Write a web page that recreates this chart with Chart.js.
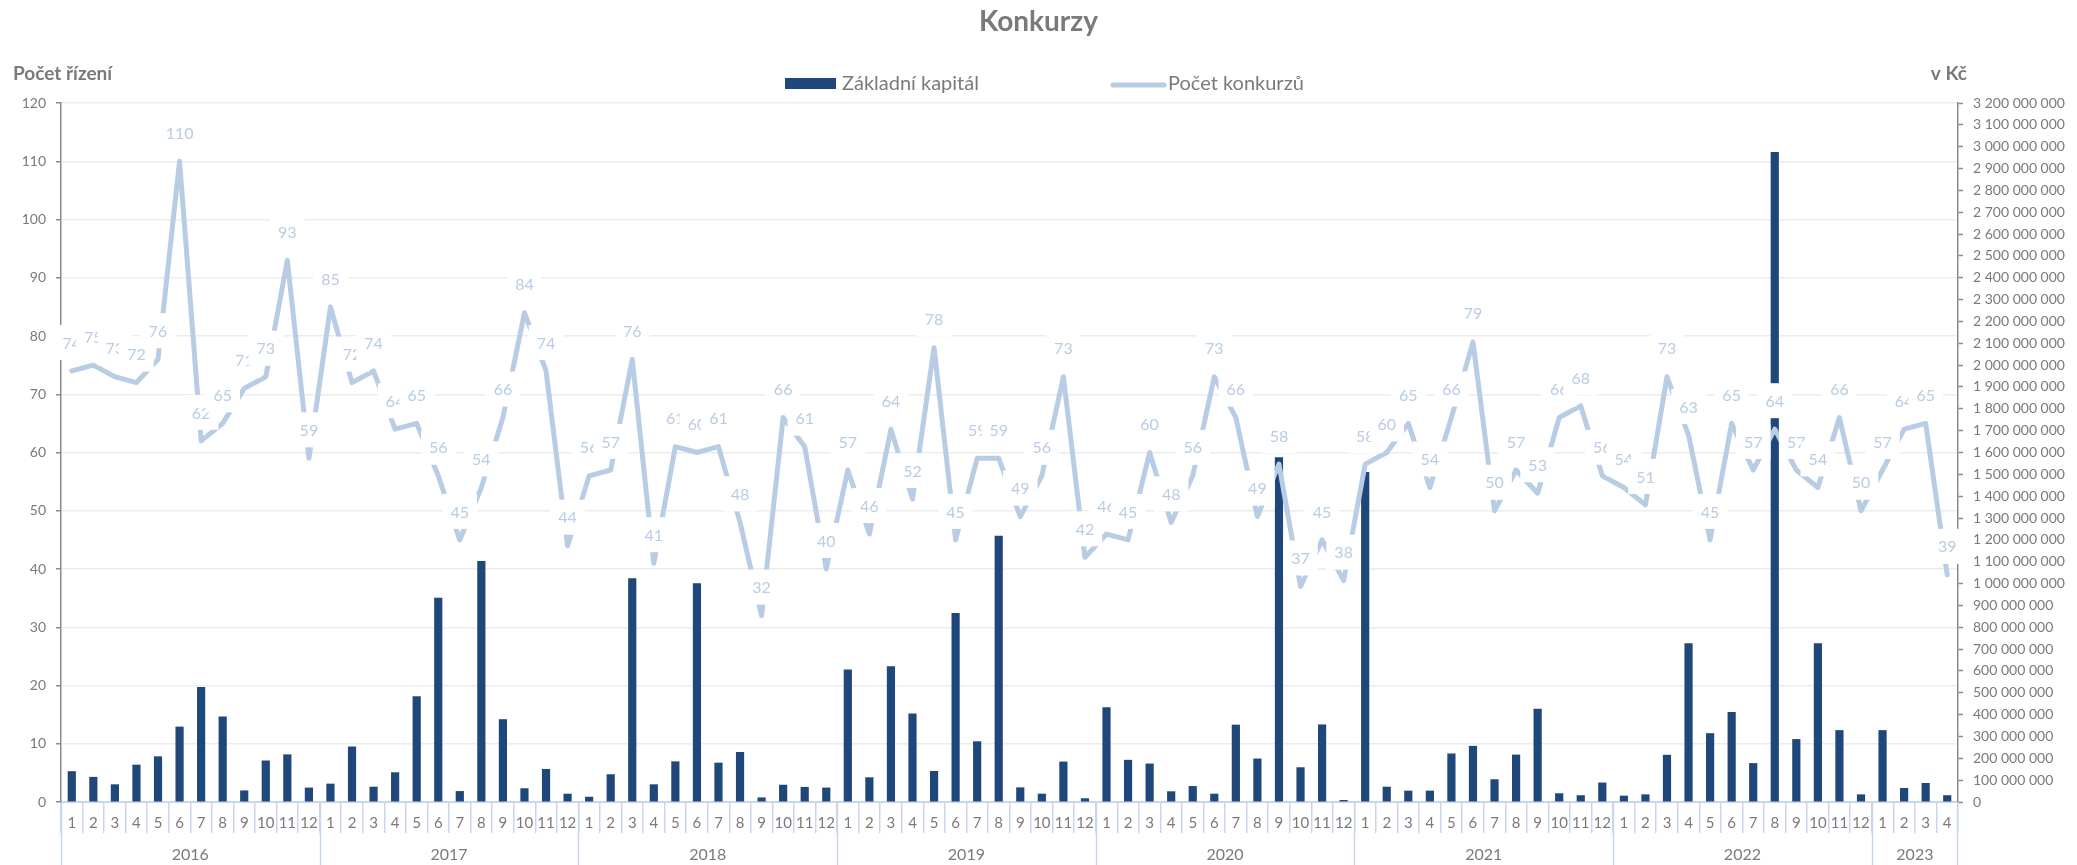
<!DOCTYPE html>
<html lang="cs">
<head>
<meta charset="utf-8">
<title>Konkurzy</title>
<script src="https://cdn.jsdelivr.net/npm/chart.js@4.4.1/dist/chart.umd.min.js"></script>
<style>
    html, body { margin: 0; padding: 0; background: #fff; }
    #wrap { width: 2077px; height: 865px; }
</style>
</head>
<body>
<div id="wrap"><canvas id="chart" width="2077" height="865"></canvas></div>
<script>
const years = ["2016", "2017", "2018", "2019", "2020", "2021", "2022", "2023"];
const monthsPerYear = [12, 12, 12, 12, 12, 12, 12, 4];
const months = ["1", "2", "3", "4", "5", "6", "7", "8", "9", "10", "11", "12"];

// Počet konkurzů (levá osa)
const pocetKonkurzu = [
    74, 75, 73, 72, 76, 110, 62, 65, 71, 73, 93, 59,
    85, 72, 74, 64, 65, 56, 45, 54, 66, 84, 74, 44,
    56, 57, 76, 41, 61, 60, 61, 48, 32, 66, 61, 40,
    57, 46, 64, 52, 78, 45, 59, 59, 49, 56, 73, 42,
    46, 45, 60, 48, 56, 73, 66, 49, 58, 37, 45, 38,
    58, 60, 65, 54, 66, 79, 50, 57, 53, 66, 68, 56,
    54, 51, 73, 63, 45, 65, 57, 64, 57, 54, 66, 50,
    57, 64, 65, 39,
];

// Základní kapitál v Kč (pravá osa)
const zakladniKapital = [
    141e6, 115e6, 81e6, 171e6, 209e6, 345e6, 526e6, 391e6, 53e6, 190e6, 218e6, 66e6,
    84e6, 254e6, 70e6, 136e6, 484e6, 935e6, 50e6, 1103e6, 379e6, 63e6, 151e6, 38e6,
    24e6, 127e6, 1024e6, 81e6, 186e6, 1001e6, 180e6, 229e6, 21e6, 79e6, 69e6, 66e6,
    607e6, 113e6, 622e6, 405e6, 142e6, 865e6, 278e6, 1219e6, 67e6, 38e6, 185e6, 17e6,
    434e6, 193e6, 176e6, 49e6, 73e6, 38e6, 354e6, 199e6, 1578e6, 159e6, 355e6, 9e6,
    1511e6, 70e6, 52e6, 52e6, 222e6, 257e6, 104e6, 217e6, 427e6, 40e6, 31e6, 89e6,
    29e6, 35e6, 216e6, 727e6, 315e6, 412e6, 178e6, 2976e6, 288e6, 727e6, 329e6, 35e6,
    329e6, 64e6, 87e6, 31e6,
];

const categories = years.flatMap((y, i) => months.slice(0, monthsPerYear[i]));

const barColor = "#1f477a";
const lineColor = "#b8cce4";
const textGray = "#7a7a7a";
const sepColor = "#c9d7ec";

Chart.defaults.font.family = "Lato, 'Open Sans', sans-serif";
Chart.defaults.color = textGray;

const formatKc = (v) => String(v).replace(/\B(?=(\d{3})+(?!\d))/g, " ");

// popisky hodnot nad čárou s bílým podkladem
const lineLabels = {
    id: "lineLabels",
    afterDatasetsDraw(chart) {
        const { ctx } = chart;
        const idx = chart.data.datasets.findIndex((d) => d.type === "line");
        const meta = chart.getDatasetMeta(idx);
        const data = chart.data.datasets[idx].data;
        ctx.save();
        ctx.font = "16px Lato";
        ctx.textAlign = "center";
        ctx.textBaseline = "middle";
        meta.data.forEach((pt, i) => {
            const text = String(data[i]);
            const w = ctx.measureText(text).width + 16;
            const cy = pt.y - 28.5;
            ctx.fillStyle = "#ffffff";
            ctx.fillRect(pt.x - w / 2, cy - 17.5, w, 35);
            ctx.fillStyle = lineColor;
            ctx.fillText(text, pt.x, cy + 1);
        });
        ctx.restore();
    },
};

// roky pod měsíci
const yearAxis = {
    id: "yearAxis",
    afterDraw(chart) {
        const { ctx } = chart;
        const x = chart.scales.x;
        ctx.save();
        ctx.strokeStyle = sepColor;
        ctx.lineWidth = 1.5;
        ctx.fillStyle = textGray;
        ctx.font = "16px Lato";
        ctx.textAlign = "center";
        ctx.textBaseline = "middle";
        let start = 0;
        years.forEach((year, i) => {
            const end = start + monthsPerYear[i] - 1;
            const left = Math.round(x.getPixelForValue(start - 0.5)) + 0.5;
            ctx.beginPath();
            ctx.moveTo(left, x.top);
            ctx.lineTo(left, chart.height);
            ctx.stroke();
            ctx.fillText(year, x.getPixelForValue((start + end) / 2), 855);
            start = end + 1;
        });
        const last = Math.round(x.getPixelForValue(start - 0.5)) - 0.5;
        ctx.beginPath();
        ctx.moveTo(last, x.top);
        ctx.lineTo(last, chart.height);
        ctx.stroke();
        ctx.restore();
    },
};

// nadpis, legenda a názvy os
const header = {
    id: "header",
    afterDraw(chart) {
        const { ctx } = chart;
        const [bars, line] = chart.data.datasets;
        ctx.save();
        ctx.fillStyle = textGray;
        ctx.textBaseline = "alphabetic";
        ctx.font = "bold 28px Lato";
        ctx.textAlign = "center";
        ctx.fillText("Konkurzy", chart.width / 2, 31);

        ctx.font = "bold 19px Lato";
        ctx.textAlign = "left";
        ctx.fillText("Počet řízení", 13, 80);
        ctx.textAlign = "right";
        ctx.fillText("v Kč", 1967, 80);

        ctx.font = "20px Lato";
        ctx.textAlign = "left";
        ctx.textBaseline = "middle";
        ctx.fillStyle = bars.backgroundColor;
        ctx.fillRect(785, 78, 51, 11);
        ctx.fillStyle = textGray;
        ctx.fillText(bars.label, 842, 84);

        ctx.strokeStyle = line.borderColor;
        ctx.lineWidth = 5;
        ctx.lineCap = "round";
        ctx.beginPath();
        ctx.moveTo(1113, 85);
        ctx.lineTo(1164, 85);
        ctx.stroke();
        ctx.fillText(line.label, 1168, 84);
        ctx.restore();
    },
};

new Chart(document.getElementById("chart"), {
    type: "bar",
    data: {
        labels: categories,
        datasets: [
            {
                type: "bar",
                label: "Základní kapitál",
                data: zakladniKapital,
                yAxisID: "y1",
                backgroundColor: barColor,
                barPercentage: 0.38,
                categoryPercentage: 1,
                order: 2,
            },
            {
                type: "line",
                label: "Počet konkurzů",
                data: pocetKonkurzu,
                yAxisID: "y",
                borderColor: lineColor,
                backgroundColor: lineColor,
                borderWidth: 5,
                borderJoinStyle: "round",
                borderCapStyle: "round",
                tension: 0,
                pointRadius: 0,
                order: 1,
            },
        ],
    },
    options: {
        responsive: false,
        animation: false,
        devicePixelRatio: 1,
        layout: { padding: { top: 103, left: 0, right: 0, bottom: 0 } },
        plugins: {
            legend: { display: false },
            title: { display: false },
            tooltip: { enabled: false },
        },
        scales: {
            x: {
                offset: true,
                grid: {
                    drawOnChartArea: false,
                    offset: true,
                    color: sepColor,
                    lineWidth: 1.5,
                    tickLength: 31,
                },
                border: { color: sepColor, width: 2 },
                ticks: {
                    autoSkip: false,
                    maxRotation: 0,
                    padding: -19,
                    font: { size: 15 },
                    color: textGray,
                },
                afterFit: (scale) => { scale.height = 63; },
            },
            y: {
                position: "left",
                min: 0,
                max: 120,
                ticks: { stepSize: 10, padding: 10, font: { size: 14 }, color: textGray },
                grid: {
                    color: "#ececec",
                    lineWidth: 1.5,
                    tickColor: "#8a8a8a",
                    tickLength: 5,
                    tickWidth: 1.5,
                },
                border: { color: "#8a8a8a", width: 1.5 },
                afterFit: (scale) => { scale.width = 61; },
            },
            y1: {
                position: "right",
                min: 0,
                max: 3200000000,
                ticks: {
                    stepSize: 100000000,
                    maxTicksLimit: 40,
                    autoSkip: false,
                    padding: 10,
                    font: { size: 14 },
                    color: textGray,
                    callback: (v) => formatKc(v),
                },
                grid: {
                    drawOnChartArea: false,
                    tickColor: "#8a8a8a",
                    tickLength: 5,
                    tickWidth: 1.5,
                },
                border: { color: "#8a8a8a", width: 1.5 },
                afterFit: (scale) => { scale.width = 119; },
            },
        },
    },
    plugins: [lineLabels, yearAxis, header],
});
</script>
</body>
</html>
